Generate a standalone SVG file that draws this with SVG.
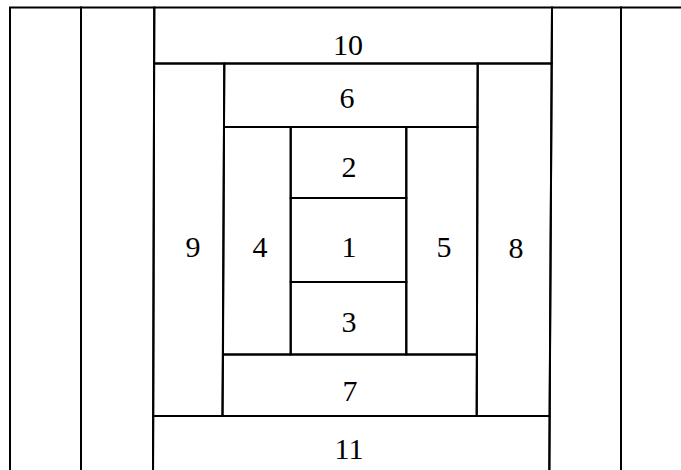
<svg xmlns="http://www.w3.org/2000/svg" width="681" height="470" viewBox="0 0 681 470">
<style>
.c{fill:none;stroke:#000;stroke-width:2;stroke-linejoin:miter}
.t{font-family:"Liberation Serif","Times New Roman",serif;font-size:30px;fill:#000;text-anchor:middle}
</style>
<rect width="681" height="470" fill="#fff"/>
<g id="strip-a"><polygon class="c" points="10,7.5 81,7.5 81,480 10,480"/></g>
<g id="strip-b"><polygon class="c" points="81,7.5 154.3,7.5 153,480 81,480"/></g>
<g id="strip-c"><polygon class="c" points="552,7.5 621,7.5 621,480 549.3,480"/></g>
<g id="strip-d"><polygon class="c" points="621,7.5 695,7.5 695,480 621,480"/></g>
<g id="n10"><polygon class="c" points="154.3,7.5 552,7.5 551.7,63.5 154.1,63.5"/><text class="t" x="348" y="54.5">10</text></g>
<g id="n9"><polygon class="c" points="154.1,63.5 224.3,63.5 222.5,416 153.2,416"/><text class="t" x="193" y="257">9</text></g>
<g id="n8"><polygon class="c" points="477.7,63.5 551.7,63.5 549.6,416 476.7,416"/><text class="t" x="516" y="257.5">8</text></g>
<g id="n6"><polygon class="c" points="224.3,63.5 477.7,63.5 477.5,127 224,127"/><text class="t" x="347" y="107.5">6</text></g>
<g id="n4"><polygon class="c" points="224,127 290.7,127 290.7,354.5 223,354.5"/><text class="t" x="260" y="257">4</text></g>
<g id="n5"><polygon class="c" points="406.3,127 477.5,127 476.9,354.5 406.3,354.5"/><text class="t" x="444" y="257">5</text></g>
<g id="n2"><polygon class="c" points="290.7,127 406.3,127 406.3,198 290.7,198"/><text class="t" x="349" y="177">2</text></g>
<g id="n1"><polygon class="c" points="290.7,198 406.3,198 406.3,282 290.7,282"/><text class="t" x="349" y="257">1</text></g>
<g id="n3"><polygon class="c" points="290.7,282 406.3,282 406.3,354.5 290.7,354.5"/><text class="t" x="349" y="332">3</text></g>
<g id="n7"><polygon class="c" points="223,354.5 476.9,354.5 476.7,416 222.5,416"/><text class="t" x="350" y="401">7</text></g>
<g id="n11"><polygon class="c" points="153.2,416 549.6,416 549.3,480 153,480"/><text class="t" x="349" y="458.5">11</text></g>
<g id="connectors"></g>
</svg>
